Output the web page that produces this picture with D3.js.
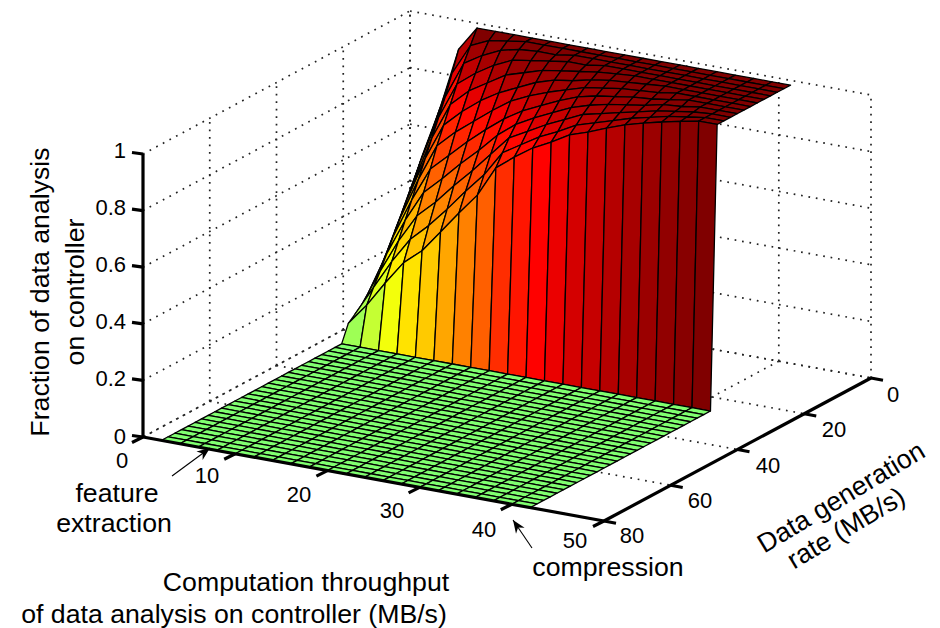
<!DOCTYPE html>
<html><head><meta charset="utf-8">
<style>html,body{margin:0;padding:0;background:#fff}svg{display:block}text{font-family:"Liberation Sans",Arial,sans-serif;fill:#000}</style>
<script src="https://cdn.jsdelivr.net/npm/d3@7/dist/d3.min.js"></script>
</head><body><svg id="c" width="940" height="628"></svg>
<script>
const xGrid=[2,4,6,8,10,12,14,16,18,20,22,24,26,28,30,32,34,36,38,40,42];
const yTop=[2,4,6,8,10,12,14,16,18,20,22,24];
const yFloor=[26,28,30,32,34,36,38,40,42,44,46,48,50,52,54,56,58,60,62,64,66,68,70,72,74,76,78,80];
const z02=[.51,.695,.913,1,1,1,1,1,1,1,1,1,1,1,1,1,1,1,1,1,1];
const z04=[.45,.64,.84,.95,.98,.99,1,1,1,1,1,1,1,1,1,1,1,1,1,1,1];
const z06=[.40,.59,.77,.90,.94,.97,.985,.99,.99,1,1,1,1,1,1,1,1,1,1,1,1];
const z08=[.35,.54,.71,.84,.89,.93,.96,.97,.98,.99,.99,1,1,1,1,1,1,1,1,1,1];
const z10=[.30,.48,.65,.78,.84,.88,.92,.94,.96,.97,.98,.99,.995,1,1,1,1,1,1,1,1];
const z12=[.25,.43,.59,.72,.78,.83,.87,.90,.93,.95,.96,.975,.985,.99,.995,1,1,1,1,1,1];
const z14=[.20,.38,.53,.66,.72,.77,.82,.865,.895,.92,.94,.96,.97,.98,.985,.99,1,1,1,1,1];
const z16=[.16,.33,.47,.59,.65,.71,.765,.815,.855,.885,.915,.94,.955,.965,.975,.98,.99,1,1,1,1];
const z18=[.13,.28,.41,.52,.58,.645,.705,.77,.82,.855,.885,.915,.935,.95,.96,.97,.985,.99,1,1,1];
const z20=[.10,.23,.35,.45,.51,.58,.645,.715,.785,.82,.855,.885,.915,.93,.945,.96,.975,.985,.995,1,1];
const z22=[.08,.185,.29,.38,.44,.51,.585,.655,.745,.785,.825,.855,.89,.91,.93,.95,.965,.98,.99,1,1];
const z24=[.06,.136,.226,.31,.364,.442,.521,.596,.704,.754,.798,.831,.868,.89,.916,.939,.957,.973,.987,1,1];
const zTop=[z02,z04,z06,z08,z10,z12,z14,z16,z18,z20,z22,z24];
const xTicks=[0,10,20,30,40,50];
const yTicks=[0,20,40,60,80];
const zTicks=[0,.2,.4,.6,.8,1];
const zTickLabels=["0","0.2","0.4","0.6","0.8","1"];

const svg=d3.select("#c");
const sxX=d3.scaleLinear().domain([0,50]).range([0,461]), sxY=d3.scaleLinear().domain([0,50]).range([0,84]);
const syX=d3.scaleLinear().domain([80,0]).range([0,267]), syY=d3.scaleLinear().domain([80,0]).range([0,-143]);
const szY=d3.scaleLinear().domain([0,1]).range([0,-283]);
const color=d3.scaleLinear().domain([0,.25,.8,1]).range(["#80ff70","#ffff00","#ff0000","#800000"]);
const P=(x,y,z)=>[143+sxX(x)+syX(y),437+sxY(x)+syY(y)+szY(z)];
const line=(a,b)=>`M${a[0]},${a[1]}L${b[0]},${b[1]}`;

// dotted grid on back planes
const g=svg.append("g").attr("fill","none").attr("stroke","#222").attr("stroke-width",1.7).attr("stroke-dasharray","1.7 5.8");
const seg=(a,b)=>g.append("path").attr("d",line(a,b));
zTicks.forEach(z=>{seg(P(0,80,z),P(0,0,z));seg(P(0,0,z),P(50,0,z));});
yTicks.forEach(y=>{seg(P(0,y,0),P(0,y,1));seg(P(0,y,0),P(50,y,0));});
xTicks.forEach(x=>{seg(P(x,0,0),P(x,0,1));seg(P(x,0,0),P(x,80,0));});

// surface
const ys=yTop.concat(yFloor);
const Z=(i,j)=>j<yTop.length?zTop[j][i]:0;
const faces=[];
for(let i=0;i<xGrid.length-1;i++)for(let j=0;j<ys.length-1;j++)faces.push([i,j]);
svg.append("g").selectAll("path").data(faces).join("path")
 .attr("d",([i,j])=>{const a=P(xGrid[i],ys[j],Z(i,j)),b=P(xGrid[i+1],ys[j],Z(i+1,j)),c=P(xGrid[i+1],ys[j+1],Z(i+1,j+1)),d=P(xGrid[i],ys[j+1],Z(i,j+1));return "M"+[a,b,c,d].join("L")+"Z";})
 .attr("fill",([i,j])=>color(Z(i,j)))
 .attr("stroke","#000").attr("stroke-width",1.3).attr("stroke-linejoin","round");

// axes
const ax=svg.append("g").attr("fill","none").attr("stroke","#000").attr("stroke-width",3.2);
ax.append("path").attr("d",line(P(0,80,0),P(0,80,1)));
ax.append("path").attr("d",line(P(0,80,0),P(50,80,0)));
ax.append("path").attr("d",line(P(50,80,0),P(50,0,0)));
zTicks.forEach(z=>{const p=P(0,80,z);ax.append("path").attr("d",line(p,[p[0]-11,p[1]-1.5]));});
xTicks.forEach(x=>{const p=P(x,80,0);ax.append("path").attr("d",line(p,[p[0]-11,p[1]+5.5]));});
yTicks.forEach(y=>{const p=P(50,y,0);ax.append("path").attr("d",line(p,[p[0]+12,p[1]+2.2]));});

const T=(s,x,y,o={})=>svg.append("text").attr("x",x).attr("y",y).attr("font-size",o.fs||22).attr("text-anchor",o.a||"middle").attr("dominant-baseline","central").attr("transform",o.r!=null?`rotate(${o.r},${x},${y})`:null).text(s);
const zLabelPos=[436,378,321,264,207,150];
zTicks.forEach((z,i)=>T(zTickLabels[i],126,zLabelPos[i],{a:"end"}));
const xLab=[[122,460],[207,475],[299,494],[392,510],[484,529],[575,540]];
xTicks.forEach((x,i)=>T(String(x),xLab[i][0],xLab[i][1]));
const yLab=[[893,394],[834,429],[768,465],[700,500],[632,535]];
yTicks.forEach((y,i)=>T(String(y),yLab[i][0],yLab[i][1]));
const LF=26.7;
T("Fraction of data analysis",40,292,{r:-90,fs:LF});
T("on controller",75,292,{r:-90,fs:LF});
T("Data generation",841,497,{r:-31,fs:LF});
T("rate (MB/s)",846,528,{r:-31,fs:LF});
T("Computation throughput",306,582,{fs:LF});
T("of data analysis on controller (MB/s)",234,614,{fs:LF});
T("feature",117,493,{fs:LF});
T("extraction",114,523,{fs:LF});
T("compression",608,567,{fs:LF});

// annotation arrows
const arrow=(a,b)=>{const ang=Math.atan2(b[1]-a[1],b[0]-a[0]),L=14,W=.38;
 svg.append("path").attr("d",line(a,b)).attr("stroke","#000").attr("stroke-width",1.1);
 svg.append("path").attr("d",`M${b}L${b[0]-L*Math.cos(ang-W)},${b[1]-L*Math.sin(ang-W)}L${b[0]-L*.65*Math.cos(ang)},${b[1]-L*.65*Math.sin(ang)}L${b[0]-L*Math.cos(ang+W)},${b[1]-L*Math.sin(ang+W)}Z`).attr("fill","#000");};
arrow([172,476],[210,448]);
arrow([532,548],[513,520]);
</script></body></html>
